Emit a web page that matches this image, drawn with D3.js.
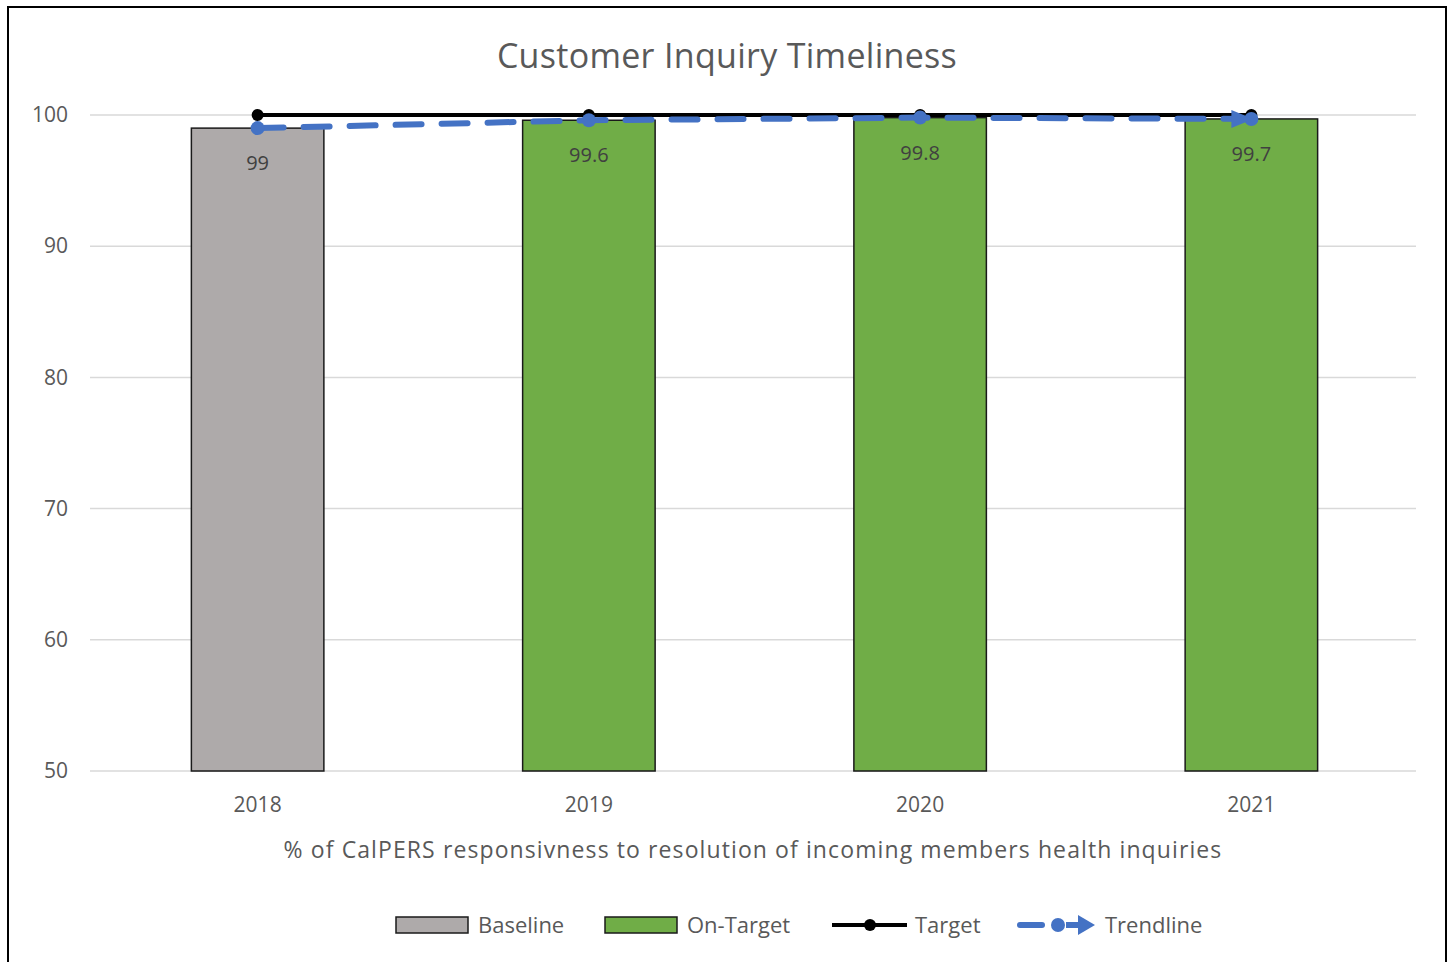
<!DOCTYPE html>
<html><head><meta charset="utf-8">
<script src="https://cdn.jsdelivr.net/npm/d3@7"></script>
<style>body{margin:0;background:#fff}text{font-family:"Open Sans",Carlito,sans-serif}</style>
</head><body>
<svg id="c" width="1453" height="962"></svg>
<script>
const categories = ["2018","2019","2020","2021"];
const values = [99, 99.6, 99.8, 99.7];
const barType = ["Baseline","On-Target","On-Target","On-Target"];
const target = [100, 100, 100, 100];
const trend = [99, 99.6, 99.8, 99.7];
const yTicks = [50, 60, 70, 80, 90, 100];
const legendItems = ["Baseline","On-Target","Target","Trendline"];
const colors = {"Baseline":"#AEAAAA","On-Target":"#70AD47","Target":"#000000","Trendline":"#4472C4"};

const svg = d3.select("#c");
svg.append("rect").attr("x",8).attr("y",7).attr("width",1438).attr("height",980)
  .attr("fill","#fff").attr("stroke","#000").attr("stroke-width",2);

const L=90,R=1416,T=115,B=771;
const x = d3.scaleBand().domain(categories).range([L+2,R+1]).paddingInner(0.6).paddingOuter(0.3);
const y = d3.scaleLinear().domain([50,100]).range([B,T]);

svg.append("text").attr("x",727).attr("y",68).attr("text-anchor","middle")
  .attr("font-size",34).attr("fill","#595959").attr("letter-spacing",0.3).text("Customer Inquiry Timeliness");

const grid = svg.append("g");
grid.selectAll("line").data(yTicks).join("line")
  .attr("x1",L).attr("x2",R).attr("y1",d=>y(d)).attr("y2",d=>y(d))
  .attr("stroke","#D9D9D9").attr("stroke-width",1.5);

const yAxis = svg.append("g").attr("transform",`translate(${L},0)`)
  .call(d3.axisLeft(y).tickValues(yTicks).tickSize(0).tickPadding(22));
yAxis.select(".domain").remove();
yAxis.selectAll("text").attr("font-size",21).attr("fill","#595959").attr("font-family","\"Open Sans\",sans-serif");

const xAxis = svg.append("g").attr("transform",`translate(0,${B})`)
  .call(d3.axisBottom(x).tickSize(0).tickPadding(26));
xAxis.select(".domain").remove();
xAxis.selectAll("text").attr("font-size",21).attr("fill","#595959").attr("font-family","\"Open Sans\",sans-serif");

svg.selectAll("rect.bar").data(categories).join("rect").attr("class","bar")
  .attr("x",d=>x(d)).attr("width",x.bandwidth())
  .attr("y",(d,i)=>y(values[i])).attr("height",(d,i)=>B-y(values[i]))
  .attr("fill",(d,i)=>colors[barType[i]]).attr("stroke","#1a1a1a").attr("stroke-width",1.5);

svg.selectAll("text.lbl").data(categories).join("text").attr("class","lbl")
  .attr("x",d=>x(d)+x.bandwidth()/2).attr("y",(d,i)=>y(values[i])+42)
  .attr("text-anchor","middle").attr("font-size",20).attr("fill","#404040")
  .text((d,i)=>values[i]);

const cx = d=>x(d)+x.bandwidth()/2;
const line = d3.line().x(d=>cx(d[0])).y(d=>y(d[1]));
svg.append("path").datum(categories.map((c,i)=>[c,target[i]]))
  .attr("d",line).attr("fill","none").attr("stroke","#000").attr("stroke-width",4);
svg.selectAll("circle.t").data(categories).join("circle").attr("class","t")
  .attr("cx",cx).attr("cy",(d,i)=>y(target[i])).attr("r",6).attr("fill","#000");

svg.append("path").datum(categories.map((c,i)=>[c,trend[i]]))
  .attr("d",line).attr("fill","none").attr("stroke","#4472C4").attr("stroke-width",6)
  .attr("stroke-dasharray","26,20").attr("stroke-linecap","round");
svg.selectAll("circle.tr").data(categories).join("circle").attr("class","tr")
  .attr("cx",cx).attr("cy",(d,i)=>y(trend[i])).attr("r",7).attr("fill","#4472C4");
{
  const n=categories.length-1, ex=cx(categories[n]), ey=y(trend[n]);
  svg.append("path").attr("d",`M${ex-20},${ey-9} L${ex+2},${ey} L${ex-20},${ey+9} Z`).attr("fill","#4472C4");
}

svg.append("text").attr("x",753).attr("y",858).attr("text-anchor","middle")
  .attr("font-size",23).attr("letter-spacing",1.1).attr("fill","#595959")
  .text("% of CalPERS responsivness to resolution of incoming members  health inquiries");

const lx=[396,605,832,1020], tx=[478,687,915,1105];
legendItems.forEach((name,i)=>{
  const g=svg.append("g");
  const cyL=925;
  if(i<2){
    g.append("rect").attr("x",lx[i]).attr("y",cyL-8).attr("width",72).attr("height",16)
      .attr("fill",colors[name]).attr("stroke","#1a1a1a").attr("stroke-width",1.5);
  } else if(name==="Target"){
    g.append("line").attr("x1",lx[i]).attr("x2",lx[i]+75).attr("y1",cyL).attr("y2",cyL).attr("stroke","#000").attr("stroke-width",4);
    g.append("circle").attr("cx",lx[i]+38).attr("cy",cyL).attr("r",6).attr("fill","#000");
  } else {
    g.append("line").attr("x1",lx[i]).attr("x2",lx[i]+22).attr("y1",cyL).attr("y2",cyL).attr("stroke","#4472C4").attr("stroke-width",6).attr("stroke-linecap","round");
    g.append("circle").attr("cx",lx[i]+38).attr("cy",cyL).attr("r",7).attr("fill","#4472C4");
    g.append("line").attr("x1",lx[i]+46).attr("x2",lx[i]+60).attr("y1",cyL).attr("y2",cyL).attr("stroke","#4472C4").attr("stroke-width",6);
    g.append("path").attr("d",`M${lx[i]+58},${cyL-10} L${lx[i]+75},${cyL} L${lx[i]+58},${cyL+10} Z`).attr("fill","#4472C4");
  }
  g.append("text").attr("x",tx[i]).attr("y",cyL+8).attr("font-size",22).attr("fill","#595959").text(name);
});
</script>
</body></html>
